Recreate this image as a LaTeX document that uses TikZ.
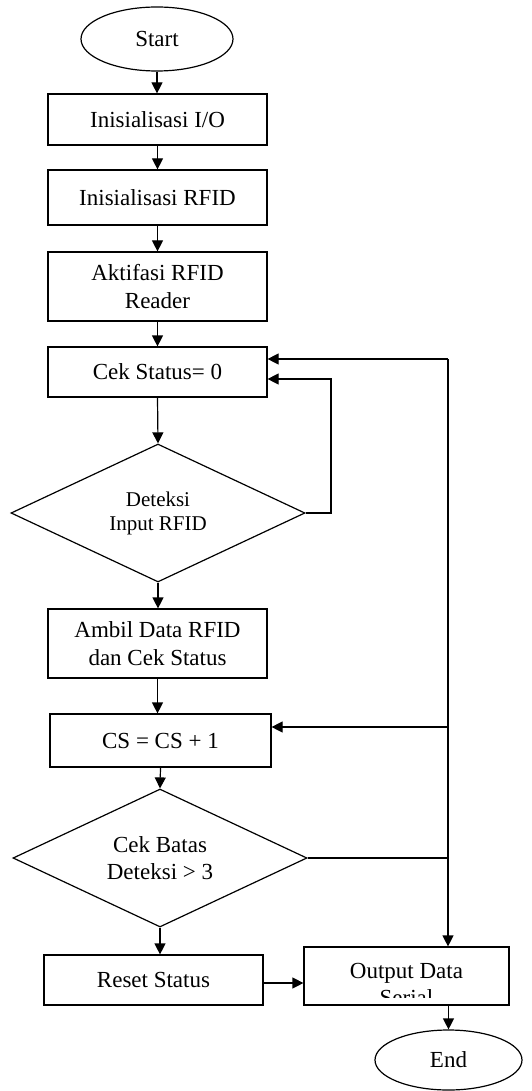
\documentclass[tikz,border=0pt]{standalone}
\usepackage{fontspec}
\setmainfont{Liberation Serif}
\usetikzlibrary{shapes.geometric,arrows.meta}
\begin{document}
\begin{tikzpicture}[x=1pt,y=-1pt,
  every node/.style={font=\fontsize{23}{27.6}\selectfont},
  proc/.style={draw,line width=1.2pt,rectangle,inner sep=0pt,align=center},
  term/.style={draw,line width=1.2pt,ellipse,inner sep=0pt},
  decis/.style={draw,line width=1.2pt,diamond,inner sep=0pt,align=center,minimum width=294pt,minimum height=138pt,aspect=2.13},
  flow/.style={line width=1.2pt,-{Triangle[length=11pt,width=11pt]}},
  plain/.style={line width=1.2pt}]
\useasboundingbox (0,0) rectangle (531,1091);
\fill[white] (0,0) rectangle (531,1091);
\node[term,minimum width=152pt,minimum height=64pt] (start) at (157,39) {Start};
\node[proc,minimum width=219pt,minimum height=51pt] (io) at (157.5,119.5) {Inisialisasi I/O};
\node[proc,minimum width=219pt,minimum height=55pt] (rfid) at (157.5,197.5) {Inisialisasi RFID};
\node[proc,minimum width=219pt,minimum height=69pt] (akt) at (157.5,286.5) {Aktifasi RFID\\Reader};
\node[proc,minimum width=219pt,minimum height=50pt] (cek) at (157.5,372) {Cek Status= 0};
\node[decis,font=\fontsize{21}{24}\selectfont] (det) at (158,513) {Deteksi\\Input RFID};
\node[proc,minimum width=219pt,minimum height=69pt] (ambil) at (157.5,643.5) {Ambil Data RFID\\dan Cek Status};
\node[proc,minimum width=221pt,minimum height=53pt] (cs) at (160.5,740.5) {CS = CS + 1};
\node[decis] (batas) at (160,858) {Cek Batas\\Deteksi > 3};
\node[proc,minimum width=219pt,minimum height=50pt] (reset) at (153.5,980) {Reset Status};
\node[proc,minimum width=205pt,minimum height=58pt] (out) at (406.5,976) {};
\begin{scope}
  \clip (305,948) rectangle (508,997);
  \node[anchor=base] (outt1) at (406.5,978) {Output Data};
  \node[anchor=base] (outt2) at (406.5,1005.6) {Serial};
\end{scope}
\node[term,minimum width=147pt,minimum height=60pt] (end) at (448.5,1060) {End};
% main flow
\draw[flow] (start.south) -- (start.south |- io.north);
\draw[flow] (io.south) -- (io.south |- rfid.north);
\draw[flow] (rfid.south) -- (rfid.south |- akt.north);
\draw[flow] (akt.south) -- (akt.south |- cek.north);
\draw[flow] (cek.south) -- (det.north);
\draw[flow] (det.south) -- (det.south |- ambil.north);
\draw[flow] (ambil.south) -- (ambil.south |- cs.north);
\draw[flow] (cs.south) -- (batas.north);
\draw[flow] (batas.south) -- (batas.south |- reset.north);
\draw[flow] (reset.east |- 0,983) -- (out.west |- 0,983);
\draw[flow] (out.south -| end.north) -- (end.north);
% loop from detection back
\coordinate (r1) at (331,379);
\draw[flow] (det.east) -- (det.east -| r1) -- (r1) -- (r1 -| cek.east);
% right bus
\coordinate (bus) at (448,359);
\coordinate (j2) at (448,727);
\draw[flow] (bus) -- (bus -| cek.east);
\draw[flow] (bus) -- (bus |- out.north);
\draw[flow] (j2) -- (j2 -| cs.east);
\draw[plain] (batas.east) -- (batas.east -| bus);
\end{tikzpicture}
\end{document}
